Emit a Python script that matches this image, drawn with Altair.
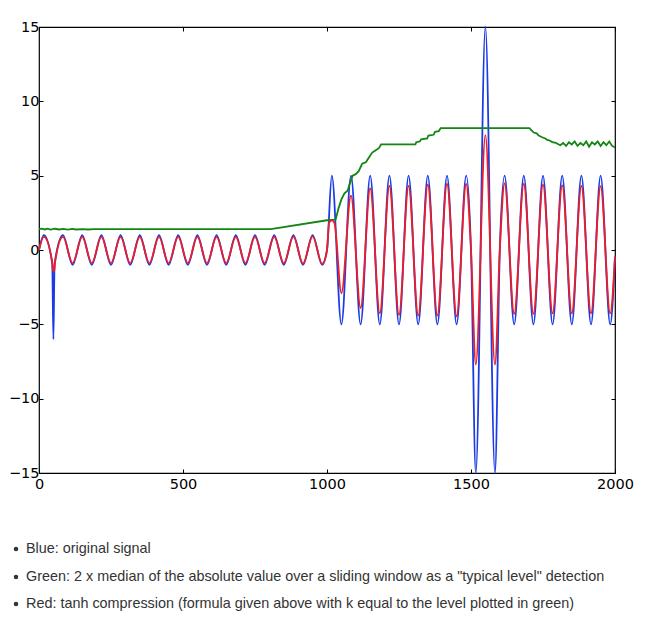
import altair as alt
import pandas as pd

# extrema positions of the oscillation
peak_x = [16.7, 50, 83.3, 116.7, 150, 183.3, 216.7, 250, 283.3, 316.7,
          350, 383.3, 416.7, 450, 483.3, 516.7, 550, 583.3, 616.7, 650,
          683.3, 716.7, 750, 783.3, 816.7, 850, 883.3, 916.7, 950, 983.3,
          1016.7, 1050, 1083.3, 1116.7, 1150, 1183.3, 1216.7, 1250, 1283.3, 1316.7,
          1350, 1383.3, 1416.7, 1450, 1483.3, 1516.7, 1550, 1583.3, 1616.7, 1650,
          1683.3, 1716.7, 1750, 1783.3, 1816.7, 1850, 1883.3, 1916.7, 1950, 1983.3]

blue_peak_y = [1, -6, 1, -1, 1, -1, 1, -1, 1, -1,
               1, -1, 1, -1, 1, -1, 1, -1, 1, -1,
               1, -1, 1, -1, 1, -1, 1, -1, 1, -1,
               5, -5, 5, -5, 5, -5, 5, -5, 5, -5,
               5, -5, 5, -5, 5, -15, 15, -15, 5, -5,
               5, -5, 5, -5, 5, -5, 5, -5, 5, -5]
blue_extra_x = [0, 46, 54, 1000, 1500, 1600, 2000]
blue_extra_y = [0, -0.93, -0.95, 0, 0, 0, -0.45]

red_peak_y = [0.88, -1.4, 0.88, -0.88, 0.88, -0.88, 0.88, -0.88, 0.88, -0.88,
              0.88, -0.88, 0.88, -0.88, 0.88, -0.88, 0.88, -0.88, 0.88, -0.88,
              0.88, -0.88, 0.88, -0.88, 0.88, -0.89, 0.9, -0.91, 0.92, -0.93,
              2.0, -2.91, 3.65, -3.9, 4.15, -4.26, 4.32, -4.37, 4.32, -4.41,
              4.39, -4.41, 4.44, -4.46, 4.44, -7.71, 7.73, -7.71, 4.48, -4.3,
              4.45, -4.3, 4.4, -4.26, 4.35, -4.26, 4.32, -4.26, 4.3, -4.26]
red_extra_x = [0, 46, 48, 53, 56, 1000, 1007, 1026, 1500, 1600, 2000]
red_extra_y = [0, -0.83, -1.3, -1.4, -0.8, 0, 1.8, 1.8, 0, 0, -0.45]

green_x = [0, 10, 20, 30, 40, 55, 70, 85, 100, 115, 130, 150, 170, 190, 200,
           805, 1000, 1030, 1040, 1050, 1060, 1072, 1078, 1089, 1100, 1110,
           1122, 1135, 1145, 1157, 1168, 1180, 1188, 1307, 1310, 1322, 1327,
           1348, 1352, 1370, 1375, 1388, 1395, 1703, 1710, 1718, 1728, 1735,
           1745, 1758, 1765, 1775, 1782, 1795,
           1800, 1810, 1820, 1830, 1840, 1850, 1860, 1870, 1880, 1890, 1900,
           1910, 1920, 1930, 1940, 1950, 1960, 1970, 1980, 1990, 2000]
green_y = [1.4, 1.44, 1.38, 1.44, 1.37, 1.43, 1.38, 1.42, 1.37, 1.42, 1.38, 1.41, 1.38, 1.41, 1.4,
           1.4, 2.0, 2.05, 2.8, 3.4, 3.8, 4.0, 4.4, 5.0, 5.1, 5.3,
           5.8, 5.9, 6.2, 6.55, 6.7, 6.85, 7.1, 7.1, 7.25, 7.3, 7.45,
           7.5, 7.7, 7.75, 7.95, 8.0, 8.2, 8.2, 8.05, 7.9, 7.85, 7.7,
           7.6, 7.5, 7.4, 7.35, 7.25, 7.2,
           7.15, 7.05, 7.2, 7.0, 7.25, 7.1, 7.3, 7.0, 7.2, 7.05, 7.3,
           6.95, 7.25, 7.1, 7.3, 7.0, 7.25, 7.05, 7.3, 7.0, 6.9]

x_ticks = [0, 500, 1000, 1500, 2000]
y_ticks = [-15, -10, -5, 0, 5, 10, 15]

notes = [
    "Blue: original signal",
    'Green: 2 x median of the absolute value over a sliding window as a "typical level" detection',
    "Red: tanh compression (formula given above with k equal to the level plotted in green)",
]

blue_df = pd.DataFrame({"x": peak_x + blue_extra_x, "y": blue_peak_y + blue_extra_y}).sort_values("x")
red_df = pd.DataFrame({"x": peak_x + red_extra_x, "y": red_peak_y + red_extra_y}).sort_values("x")
green_df = pd.DataFrame({"x": green_x, "y": green_y})

xs = alt.Scale(domain=[0, 2000], nice=False, zero=False)
ys = alt.Scale(domain=[-15, 15], nice=False, zero=False)

common = dict(grid=False, domain=False, title=None, tickSize=4, offset=-4,
              tickColor="black", tickWidth=1, labelFont="DejaVu Sans",
              labelFontSize=14.5, labelColor="black", labelOverlap=False,
              labelFlush=False, format="d")

ax_bottom = alt.Axis(orient="bottom", values=x_ticks, labelPadding=4, **common)
ax_left = alt.Axis(orient="left", values=y_ticks, labelPadding=0, **common)
ax_top = alt.Axis(orient="top", values=x_ticks, labels=False, **common)
ax_right = alt.Axis(orient="right", values=y_ticks, labels=False, **common)

blue = alt.Chart(blue_df).mark_line(color="#1a3ce6", strokeWidth=1.8, interpolate="monotone").encode(
    x=alt.X("x:Q", scale=xs, axis=ax_bottom),
    y=alt.Y("y:Q", scale=ys, axis=ax_left),
)
green = alt.Chart(green_df).mark_line(color="#128512", strokeWidth=1.8).encode(
    x=alt.X("x:Q", scale=xs, axis=ax_top),
    y=alt.Y("y:Q", scale=ys, axis=ax_right),
)
red = alt.Chart(red_df).mark_line(color="#ee1c25", strokeWidth=1.8, interpolate="monotone").encode(
    x=alt.X("x:Q", scale=xs, axis=None),
    y=alt.Y("y:Q", scale=ys, axis=None),
)

note_layers = []
line_y = [522, 550, 577]
for i, t in enumerate(notes):
    d = pd.DataFrame({"t": [t]})
    note_layers.append(
        alt.Chart(d).mark_circle(size=20, color="#333333", opacity=1).encode(
            x=alt.value(-23), y=alt.value(line_y[i]))
    )
    note_layers.append(
        alt.Chart(d).mark_text(align="left", baseline="middle", font="Liberation Sans",
                               fontSize=14.4, color="#333333").encode(
            x=alt.value(-13), y=alt.value(line_y[i]), text="t:N")
    )

chart = alt.layer(blue, green, red, *note_layers).resolve_axis(
    x="independent", y="independent"
).properties(
    width=576, height=446,
    padding={"left": 0, "top": 11, "right": 5, "bottom": 5},
).configure(background="white").configure_view(stroke="black", strokeWidth=1.2)

chart.save("out.html", embed_options={"renderer": "svg", "actions": False})
